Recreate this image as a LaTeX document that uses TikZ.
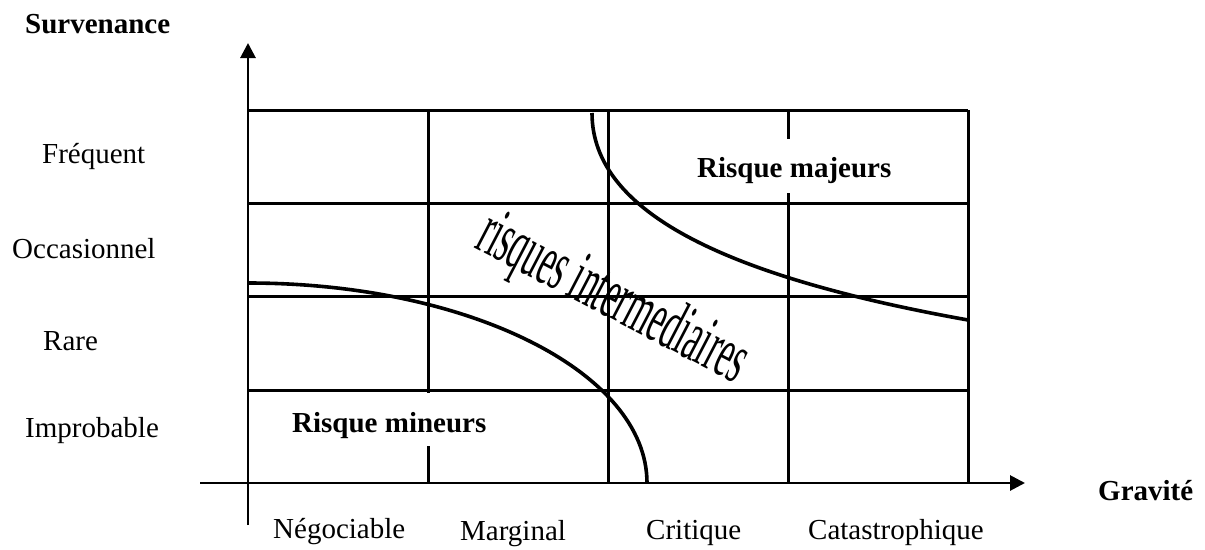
\documentclass[tikz,border=0pt]{standalone}
\usepackage{fontspec}
\setmainfont{Liberation Serif}
\usetikzlibrary{arrows.meta}
\tikzset{
  lbl/.style={anchor=base west, inner sep=0pt, font=\fontsize{29}{34}\selectfont},
  blbl/.style={lbl, font=\fontsize{29}{34}\selectfont\bfseries},
  gridline/.style={line width=3pt},
  axisline/.style={line width=2.8pt, -{Triangle[length=15pt,width=15pt]}},
  zoneline/.style={line width=3.6pt},
}
\begin{document}
\begin{tikzpicture}[x=1pt,y=-1pt]
\useasboundingbox (0,0) rectangle (1205,549);
% axes
\coordinate (ybot) at (248,525);
\coordinate (ytop) at (248,43);
\coordinate (xl) at (200,483);
\coordinate (xr) at (1025,483);
\draw[axisline] (ybot) -- (ytop);
\draw[axisline] (xl) -- (xr);
% grid
\foreach \y in {110,203,296,390}{
  \draw[gridline] (248,\y) -- (968,\y);
}
\draw[gridline] (428,110) -- (428,393);
\draw[gridline] (428,446) -- (428,483);
\draw[gridline] (608,110) -- (608,483);
\draw[gridline] (788,110) -- (788,139);
\draw[gridline] (788,193) -- (788,483);
\draw[gridline] (968,110) -- (968,483);
% zone boundaries
\coordinate (ua) at (592,113);
\coordinate (ub) at (968,320);
\draw[zoneline] (ua) .. controls (592,213) and (728,277) .. (ub);
\coordinate (la) at (248,283);
\coordinate (lb) at (647,483);
\draw[zoneline] (la) .. controls (468,283) and (647,372) .. (lb);
% labels
\node[blbl] (surv) at (25,33) {Survenance};
\node[lbl] (freq) at (42,163) {Fréquent};
\node[lbl] (occ) at (12,258) {Occasionnel};
\node[lbl] (rare) at (43,350) {Rare};
\node[lbl] (impr) at (25,437) {Improbable};
\node[lbl] (nego) at (273,538) {Négociable};
\node[lbl] (marg) at (460,540) {Marginal};
\node[lbl] (crit) at (646,539) {Critique};
\node[lbl] (cata) at (808,539) {Catastrophique};
\node[blbl] (grav) at (1098,500) {Gravité};
\node[blbl] (rmaj) at (697,177) {Risque majeurs};
\node[blbl] (rmin) at (292,432) {Risque mineurs};
\node[anchor=base west, inner sep=0pt, font=\fontsize{33.5}{40}\selectfont,
      rotate=-27.5, yscale=2.15] (rint) at (473,247) {risques intermediaires};
\end{tikzpicture}
\end{document}
